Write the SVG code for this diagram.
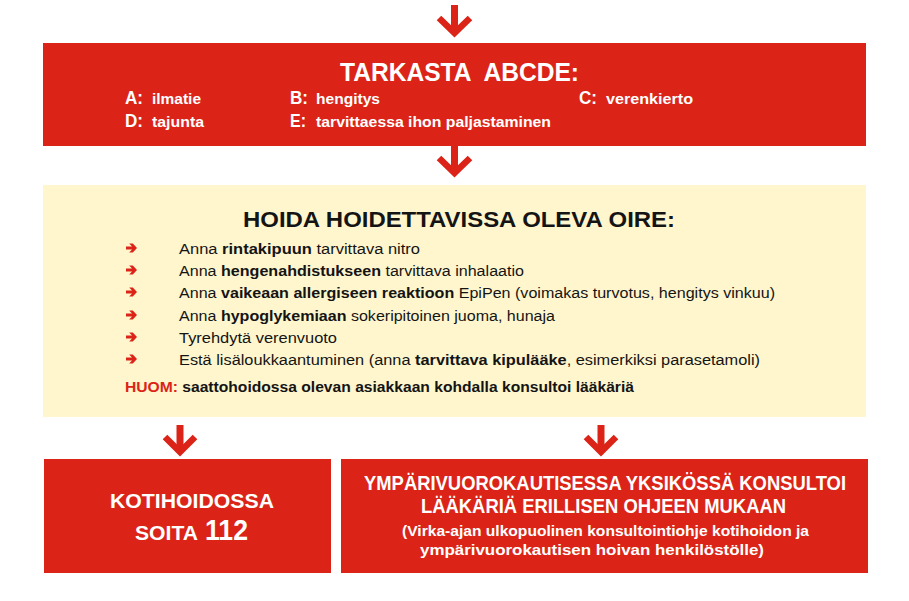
<svg xmlns="http://www.w3.org/2000/svg" width="909" height="601" viewBox="0 0 909 601">
<style>
.red{fill:#DB2417}
.yel{fill:#FFF6CD}
.w{fill:#fff;font-family:"Liberation Sans",Arial,sans-serif;font-weight:bold}
.k{fill:#141414;font-family:"Liberation Sans",Arial,sans-serif}
.b{font-weight:bold}
.r{fill:#DB2417}
.shaft{fill:#DB2417}
.chev{fill:none;stroke:#DB2417;stroke-width:6.5;stroke-linejoin:miter}
</style>
<defs>
<path id="bul" d="M0,-1.6 H6 L3.2,-4.6 H6.8 L11,0 L6.8,4.6 H3.2 L6,1.6 H0 Z" fill="#DB2417"/>
</defs>
<rect width="909" height="601" fill="#fff"/>

<g id="connectors">
<rect class="shaft" x="451" y="5" width="7" height="28"/>
<polyline class="chev" points="439,18 454.5,33 470,18"/>
<rect class="shaft" x="451" y="145" width="7" height="28"/>
<polyline class="chev" points="439,158 454.5,173 470,158"/>
<rect class="shaft" x="176.5" y="425" width="7" height="27"/>
<polyline class="chev" points="165,437 180,452 195,437"/>
<rect class="shaft" x="597.5" y="425" width="7" height="27"/>
<polyline class="chev" points="586,437 601,452 616,437"/>
</g>

<g id="abcde">
<rect class="red" x="43" y="43" width="823" height="103"/>
<text class="w" x="340" y="81" font-size="26" textLength="239" lengthAdjust="spacingAndGlyphs" xml:space="preserve">TARKASTA  ABCDE:</text>
<text class="w" x="125" y="104" font-size="19" textLength="18" lengthAdjust="spacingAndGlyphs">A:</text>
<text class="w" x="152" y="104" font-size="15" textLength="49" lengthAdjust="spacingAndGlyphs">ilmatie</text>
<text class="w" x="290" y="104" font-size="19" textLength="18" lengthAdjust="spacingAndGlyphs">B:</text>
<text class="w" x="316" y="104" font-size="15" textLength="64" lengthAdjust="spacingAndGlyphs">hengitys</text>
<text class="w" x="579" y="104" font-size="19" textLength="18" lengthAdjust="spacingAndGlyphs">C:</text>
<text class="w" x="606" y="104" font-size="15" textLength="87" lengthAdjust="spacingAndGlyphs">verenkierto</text>
<text class="w" x="125" y="127" font-size="19" textLength="18" lengthAdjust="spacingAndGlyphs">D:</text>
<text class="w" x="152" y="127" font-size="15" textLength="52" lengthAdjust="spacingAndGlyphs">tajunta</text>
<text class="w" x="290" y="127" font-size="19" textLength="16" lengthAdjust="spacingAndGlyphs">E:</text>
<text class="w" x="316" y="127" font-size="15" textLength="235" lengthAdjust="spacingAndGlyphs">tarvittaessa ihon paljastaminen</text>
</g>

<g id="hoida">
<rect class="yel" x="43" y="185" width="823" height="232"/>
<text class="k b" x="243" y="227" font-size="22" textLength="432" lengthAdjust="spacingAndGlyphs">HOIDA HOIDETTAVISSA OLEVA OIRE:</text>
<use href="#bul" x="126" y="248"/>
<use href="#bul" x="126" y="270"/>
<use href="#bul" x="126" y="292"/>
<use href="#bul" x="126" y="315"/>
<use href="#bul" x="126" y="337"/>
<use href="#bul" x="126" y="359"/>
<text class="k" x="179" y="254" font-size="15.5" textLength="241" lengthAdjust="spacingAndGlyphs">Anna <tspan class="b">rintakipuun</tspan> tarvittava nitro</text>
<text class="k" x="179" y="276" font-size="15.5" textLength="345" lengthAdjust="spacingAndGlyphs">Anna <tspan class="b">hengenahdistukseen</tspan> tarvittava inhalaatio</text>
<text class="k" x="179" y="298" font-size="15.5" textLength="596" lengthAdjust="spacingAndGlyphs">Anna <tspan class="b">vaikeaan allergiseen reaktioon</tspan> EpiPen (voimakas turvotus, hengitys vinkuu)</text>
<text class="k" x="179" y="321" font-size="15.5" textLength="376" lengthAdjust="spacingAndGlyphs">Anna <tspan class="b">hypoglykemiaan</tspan> sokeripitoinen juoma, hunaja</text>
<text class="k" x="179" y="343" font-size="15.5" textLength="158" lengthAdjust="spacingAndGlyphs">Tyrehdytä verenvuoto</text>
<text class="k" x="179" y="365" font-size="15.5" textLength="581" lengthAdjust="spacingAndGlyphs">Estä lisäloukkaantuminen (anna <tspan class="b">tarvittava kipulääke</tspan>, esimerkiksi parasetamoli)</text>
<text class="k b" x="125" y="392" font-size="15.5" textLength="509" lengthAdjust="spacingAndGlyphs"><tspan class="r">HUOM:</tspan> saattohoidossa olevan asiakkaan kohdalla konsultoi lääkäriä</text>
</g>

<g id="kotihoito">
<rect class="red" x="44" y="459" width="287" height="114"/>
<text class="w" x="110" y="508" font-size="21" textLength="164" lengthAdjust="spacingAndGlyphs">KOTIHOIDOSSA</text>
<text class="w" x="135" y="540" font-size="21" textLength="63" lengthAdjust="spacingAndGlyphs">SOITA</text>
<text class="w" x="205" y="540" font-size="29" textLength="43" lengthAdjust="spacingAndGlyphs">112</text>
</g>

<g id="ymparivuorokautinen">
<rect class="red" x="341" y="459" width="527" height="114"/>
<text class="w" x="364" y="490" font-size="19.5" textLength="482" lengthAdjust="spacingAndGlyphs">YMPÄRIVUOROKAUTISESSA YKSIKÖSSÄ KONSULTOI</text>
<text class="w" x="421" y="513" font-size="19.5" textLength="365" lengthAdjust="spacingAndGlyphs">LÄÄKÄRIÄ ERILLISEN OHJEEN MUKAAN</text>
<text class="w" x="402" y="536" font-size="15" textLength="407" lengthAdjust="spacingAndGlyphs">(Virka-ajan ulkopuolinen konsultointiohje kotihoidon ja</text>
<text class="w" x="420" y="555" font-size="15" textLength="344" lengthAdjust="spacingAndGlyphs">ympärivuorokautisen hoivan henkilöstölle)</text>
</g>
</svg>
